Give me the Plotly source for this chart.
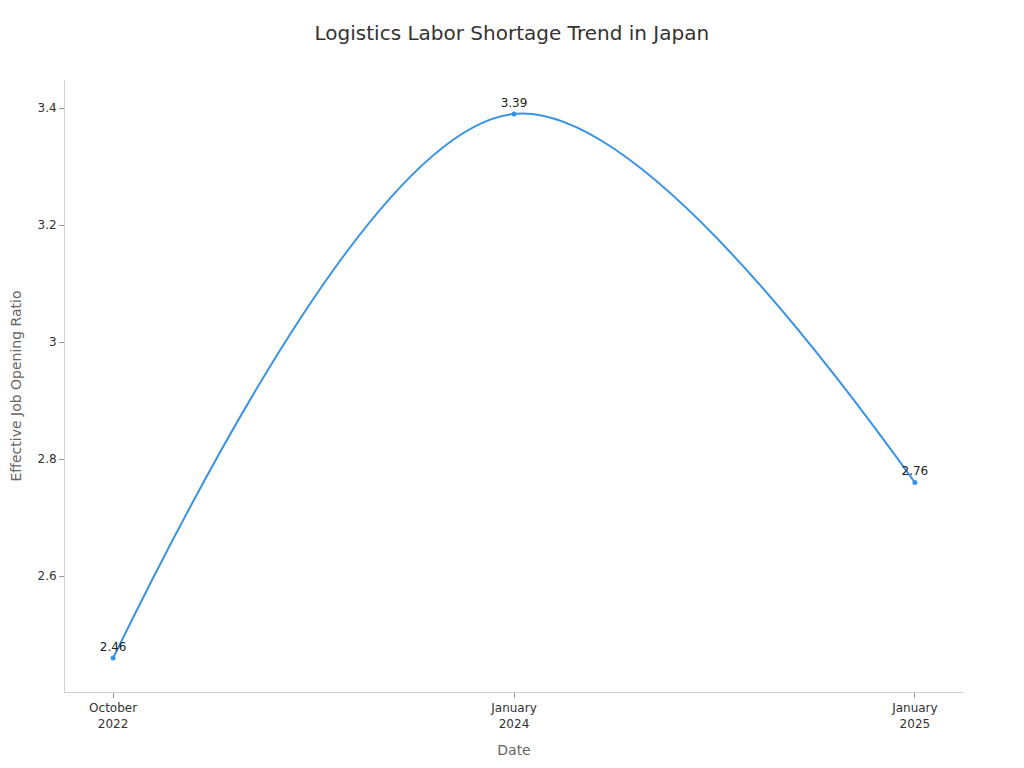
import plotly.graph_objects as go

dates = ["October<br>2022", "January<br>2024", "January<br>2025"]
ratios = [2.46, 3.39, 2.76]
labels = ["2.46", "3.39", "2.76"]

line_color = "#3893e6"

fig = go.Figure()
fig.add_trace(go.Scatter(
    x=dates, y=ratios,
    mode="lines+markers+text",
    line=dict(color=line_color, width=2, shape="spline", smoothing=1),
    marker=dict(color=line_color, size=5),
    text=labels,
    textposition="top center",
    textfont=dict(family="DejaVu Sans", size=12, color="#222"),
    cliponaxis=False,
    hoverinfo="x+y",
    showlegend=False,
))

fig.update_layout(
    width=1024, height=768,
    paper_bgcolor="white", plot_bgcolor="white",
    margin=dict(l=57, r=69, t=72, b=84),
    font=dict(family="DejaVu Sans", color="#333"),
    title=dict(text="Logistics Labor Shortage Trend in Japan", x=0.492, xanchor="center",
               y=0.9674, yanchor="middle",
               font=dict(family="DejaVu Sans", size=20, color="#333")),
)
fig.update_xaxes(
    type="category", range=[-0.12, 2.12],
    showline=True, linecolor="#d0d0d0", linewidth=1,
    ticks="outside", tickcolor="#999", ticklen=5,
    showgrid=False, zeroline=False, automargin=False,
    tickfont=dict(size=12, color="#333"),
    title=dict(text="Date", font=dict(size=14, color="#666"), standoff=15),
)
fig.update_yaxes(
    range=[2.402, 3.448],
    tickvals=[2.6, 2.8, 3.0, 3.2, 3.4], ticktext=["2.6", "2.8", "3", "3.2", "3.4"],
    showline=True, linecolor="#d0d0d0", linewidth=1,
    ticks="outside", tickcolor="#999", ticklen=5,
    showgrid=False, zeroline=False, automargin=False,
    tickfont=dict(size=12, color="#333"),
    title=dict(text="Effective Job Opening Ratio", font=dict(size=14, color="#666"), standoff=19),
)

fig.write_html("out.html")
